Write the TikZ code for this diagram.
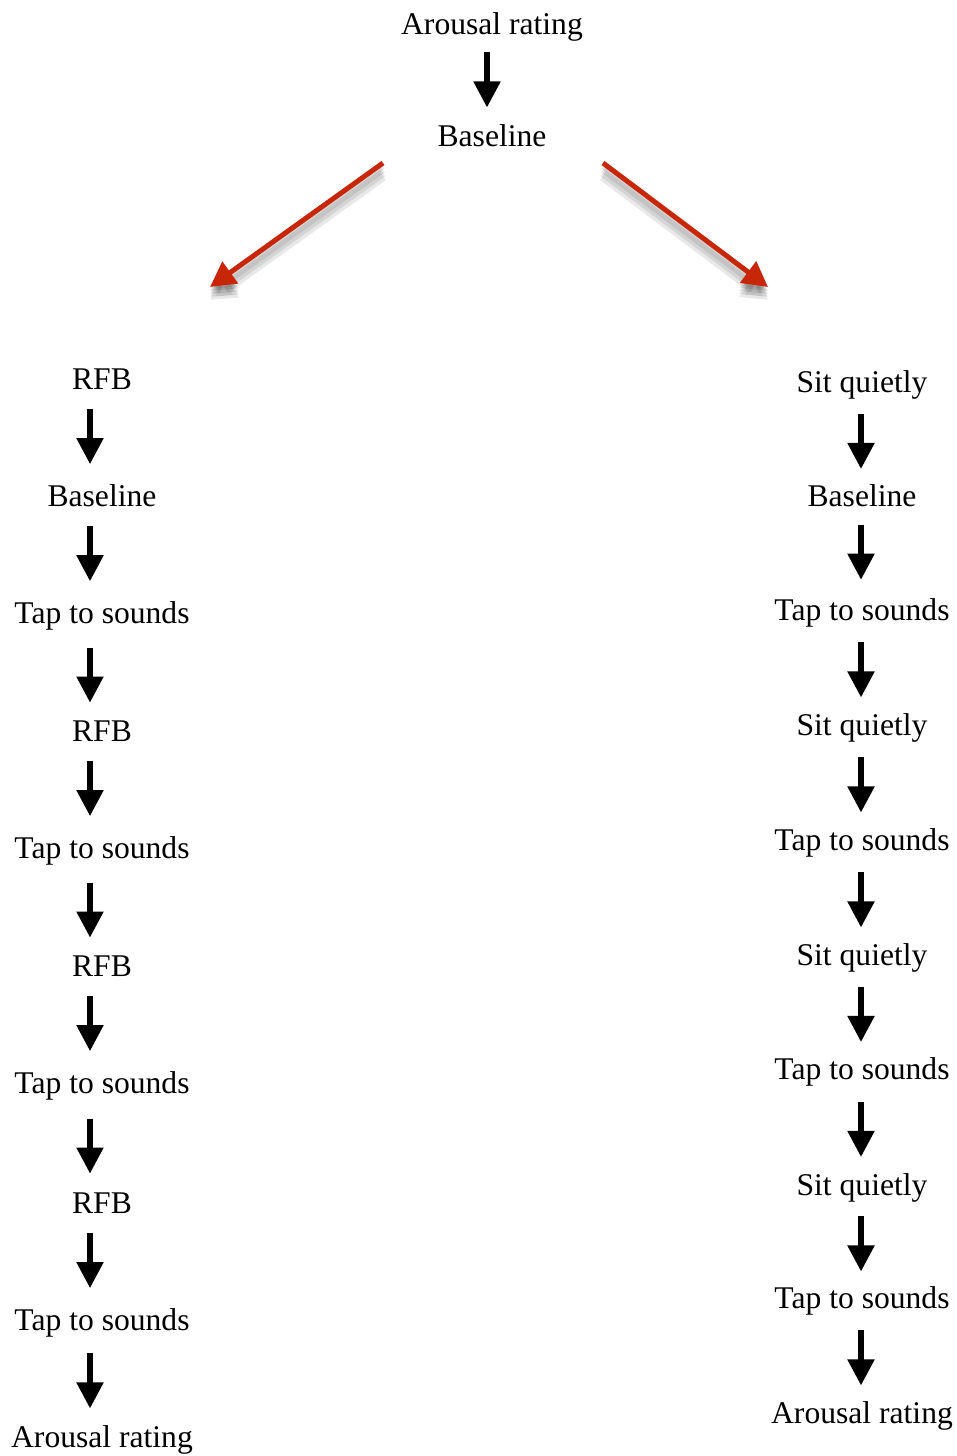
\documentclass[tikz,border=0pt]{standalone}
\usepackage{fontspec}
\setmainfont{Liberation Serif}
\usepackage{xcolor}
\usetikzlibrary{positioning, calc, arrows.meta}
\definecolor{sqRed}{RGB}{200, 38, 8}
\definecolor{sqShade}{RGB}{50, 50, 50}
\tikzset{
    base/.style={
        font=\fontsize{15.8}{18}\selectfont,
        inner sep=0pt,
        anchor=base
    },
    phase/.style={
        base,
        text=black
    },
    flow/.style={
        -{Triangle[length=13pt, width=13pt]},
        line width=2.6pt,
        black
    },
    branch/.style={
        -{Triangle[length=12.5pt, width=13pt]},
        line width=2.5pt,
        color=sqRed
    },
    branchshade/.style={
        -{Triangle[length=12.5pt, width=14pt]},
        line width=#1,
        color=sqShade,
        opacity=0.11
    }
}
\begin{document}
\begin{tikzpicture}[x=0.5pt, y=-0.5pt]
  \useasboundingbox (0,0) rectangle (957,1456);
  \coordinate (colT) at (487,0);
  \coordinate (colL) at (90,0);
  \coordinate (colR) at (861,0);

  % Start
  \node[phase] (t1) at (492,34) {Arousal rating};
  \node[phase] (t2) at (492,146) {Baseline};
  \draw[flow] ($(t1.south -| colT)!.5!(t2.north -| colT)$) ++(0,-30) -- ++(0,55);

  % Split into the two groups
  \coordinate (forkL) at (383,163);
  \coordinate (endL) at (210,287);
  \coordinate (forkR) at (603,163);
  \coordinate (endR) at (768,287);
  \foreach \s/\w in {2/2pt, 3.5/3pt, 5/4pt, 6.5/5pt} {
    \draw[branchshade=\w, transform canvas={yshift=-\s pt}] (forkL) -- (endL);
    \draw[branchshade=\w, transform canvas={yshift=-\s pt}] (forkR) -- (endR);
  }
  \draw[branch] (forkL) -- (endL);
  \draw[branch] (forkR) -- (endR);

  % RFB group
  \node[phase] (l1) at (102,389) {RFB};
  \node[phase] (l2) at (102,506) {Baseline};
  \node[phase] (l3) at (102,623) {Tap to sounds};
  \node[phase] (l4) at (102,741) {RFB};
  \node[phase] (l5) at (102,858) {Tap to sounds};
  \node[phase] (l6) at (102,976) {RFB};
  \node[phase] (l7) at (102,1093) {Tap to sounds};
  \node[phase] (l8) at (102,1213) {RFB};
  \node[phase] (l9) at (102,1330) {Tap to sounds};
  \node[phase] (l10) at (102,1447) {Arousal rating};
  \foreach \a/\b in {l1/l2, l2/l3, l3/l4, l4/l5, l5/l6, l6/l7, l7/l8, l8/l9, l9/l10}
    \draw[flow] ($(\a.south -| colL)!.5!(\b.north -| colL)$) ++(0,-27.5) -- ++(0,55);

  % Sit quietly group
  \node[phase] (r1) at (862,392) {Sit quietly};
  \node[phase] (r2) at (862,506) {Baseline};
  \node[phase] (r3) at (862,620) {Tap to sounds};
  \node[phase] (r4) at (862,735) {Sit quietly};
  \node[phase] (r5) at (862,850) {Tap to sounds};
  \node[phase] (r6) at (862,965) {Sit quietly};
  \node[phase] (r7) at (862,1079) {Tap to sounds};
  \node[phase] (r8) at (862,1195) {Sit quietly};
  \node[phase] (r9) at (862,1308) {Tap to sounds};
  \node[phase] (r10) at (862,1423) {Arousal rating};
  \foreach \a/\b in {r1/r2, r2/r3, r3/r4, r4/r5, r5/r6, r6/r7, r7/r8, r8/r9, r9/r10}
    \draw[flow] ($(\a.south -| colR)!.5!(\b.north -| colR)$) ++(0,-27.5) -- ++(0,55);
\end{tikzpicture}
\end{document}
